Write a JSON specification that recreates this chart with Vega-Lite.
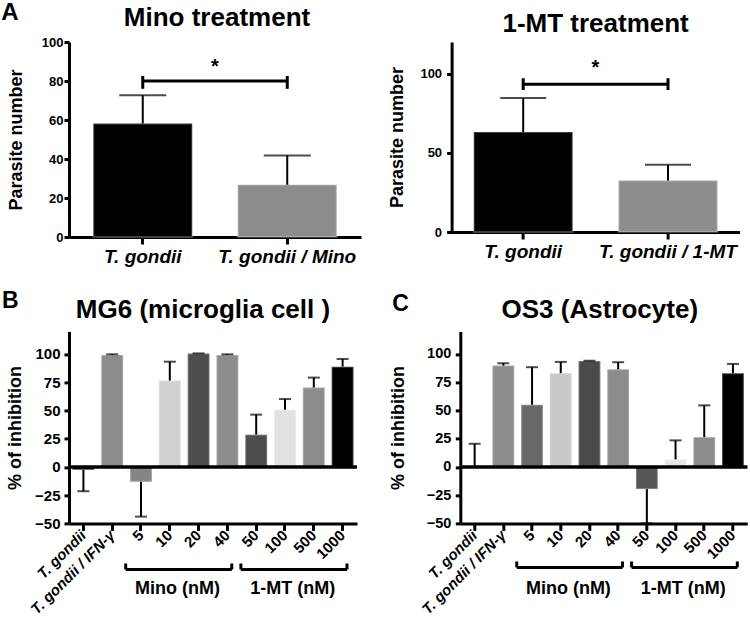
{
  "$schema": "https://vega.github.io/schema/vega-lite/v6.json",
  "padding": {"left": 1, "top": 0, "right": 0, "bottom": 0},
  "spacing": 23.4,
  "resolve": {"scale": {"color": "independent"}},
  "config": {
    "font": "Liberation Sans",
    "view": {"stroke": null},
    "axis": {"domainColor": "#000000", "domainWidth": 3, "tickColor": "#000000", "tickWidth": 3, "grid": false, "labelColor": "#000000", "labelFont": "Liberation Sans", "labelFontWeight": "bold", "titleColor": "#000000", "titleFont": "Liberation Sans", "titleFontWeight": "bold", "labelOverlap": false, "labelFlush": false},
    "title": {"font": "Liberation Sans", "fontWeight": "bold", "color": "#000000", "fontSize": 26}
  },
  "vconcat": [
    {
      "title": {"text": "A", "anchor": "start", "frame": "bounds", "fontSize": 24, "offset": -20, "dx": -6},
      "spacing": 27.6,
      "resolve": {"scale": {"color": "independent"}},
      "hconcat": [
        {
          "width": 292, "height": 195,
          "title": {"text": "Mino treatment", "anchor": "middle", "frame": "group", "offset": 9, "dx": 2, "dy": 3.5},
          "data": {"values": [
            {"cat": "T. gondii", "v": 58.2, "e": 72.7},
            {"cat": "T. gondii / Mino", "v": 26.8, "e": 41.8}
          ]},
          "layer": [
            {"mark": {"type": "bar", "stroke": "#ffffff", "strokeOpacity": 0.25, "strokeWidth": 2},
             "encoding": {
               "x": {"field": "cat", "type": "nominal", "scale": {"domain": ["T. gondii", "T. gondii / Mino"], "paddingInner": 0.315, "paddingOuter": 0.168}, "axis": {"title": null, "labelAngle": 0, "labelFontSize": 19, "labelFontStyle": "italic", "tickSize": 7, "labelPadding": 3, "labelOverlap": false}},
               "y": {"field": "v", "type": "quantitative", "scale": {"domain": [0, 100], "nice": false}, "axis": {"title": "Parasite number", "values": [0, 20, 40, 60, 80, 100], "labelFontSize": 13, "titleFontSize": 18, "tickSize": 5, "labelPadding": 1, "titlePadding": 16, "labelOverlap": false}},
               "color": {"field": "cat", "type": "nominal", "scale": {"domain": ["T. gondii", "T. gondii / Mino"], "range": ["#000000", "#8c8c8c"]}, "legend": null}
             }},
            {"mark": {"type": "rule", "strokeWidth": 2, "color": "#000000"},
             "encoding": {
               "x": {"field": "cat", "type": "nominal", "scale": {"domain": ["T. gondii", "T. gondii / Mino"], "paddingInner": 0.315, "paddingOuter": 0.168}, "axis": {"title": null, "labelAngle": 0, "labelFontSize": 19, "labelFontStyle": "italic", "tickSize": 7, "labelPadding": 3, "labelOverlap": false}},
               "y": {"field": "v", "type": "quantitative", "scale": {"domain": [0, 100], "nice": false}, "axis": {"title": "Parasite number", "values": [0, 20, 40, 60, 80, 100], "labelFontSize": 13, "titleFontSize": 18, "tickSize": 5, "labelPadding": 1, "titlePadding": 16, "labelOverlap": false}},
               "y2": {"field": "e"}}},
            {"mark": {"type": "tick", "orient": "horizontal", "size": 47, "thickness": 2, "color": "#000000"},
             "encoding": {
               "x": {"field": "cat", "type": "nominal", "scale": {"domain": ["T. gondii", "T. gondii / Mino"], "paddingInner": 0.315, "paddingOuter": 0.168}, "axis": {"title": null, "labelAngle": 0, "labelFontSize": 19, "labelFontStyle": "italic", "tickSize": 7, "labelPadding": 3, "labelOverlap": false}},
               "y": {"field": "e", "type": "quantitative", "scale": {"domain": [0, 100], "nice": false}, "axis": {"title": "Parasite number", "values": [0, 20, 40, 60, 80, 100], "labelFontSize": 13, "titleFontSize": 18, "tickSize": 5, "labelPadding": 1, "titlePadding": 16, "labelOverlap": false}}}},
            {"data": {"values": [{"a": "T. gondii", "b": "T. gondii / Mino", "s": "*", "y0": 80, "ylo": 76, "yhi": 82.6, "ys": 84}]},
             "layer": [
               {"mark": {"type": "rule", "strokeWidth": 3, "color": "#000000"},
                "encoding": {
                  "x": {"field": "a", "type": "nominal", "bandPosition": 0.5, "scale": {"domain": ["T. gondii", "T. gondii / Mino"], "paddingInner": 0.315, "paddingOuter": 0.168}, "axis": {"title": null, "labelAngle": 0, "labelFontSize": 19, "labelFontStyle": "italic", "tickSize": 7, "labelPadding": 3, "labelOverlap": false}},
                  "x2": {"field": "b", "bandPosition": 0.5},
                  "y": {"field": "y0", "type": "quantitative", "scale": {"domain": [0, 100], "nice": false}, "axis": {"title": "Parasite number", "values": [0, 20, 40, 60, 80, 100], "labelFontSize": 13, "titleFontSize": 18, "tickSize": 5, "labelPadding": 1, "titlePadding": 16, "labelOverlap": false}}}},
               {"mark": {"type": "rule", "strokeWidth": 3, "color": "#000000"},
                "encoding": {
                  "x": {"field": "a", "type": "nominal", "scale": {"domain": ["T. gondii", "T. gondii / Mino"], "paddingInner": 0.315, "paddingOuter": 0.168}, "axis": {"title": null, "labelAngle": 0, "labelFontSize": 19, "labelFontStyle": "italic", "tickSize": 7, "labelPadding": 3, "labelOverlap": false}},
                  "y": {"field": "ylo", "type": "quantitative", "scale": {"domain": [0, 100], "nice": false}, "axis": {"title": "Parasite number", "values": [0, 20, 40, 60, 80, 100], "labelFontSize": 13, "titleFontSize": 18, "tickSize": 5, "labelPadding": 1, "titlePadding": 16, "labelOverlap": false}},
                  "y2": {"field": "yhi"}}},
               {"mark": {"type": "rule", "strokeWidth": 3, "color": "#000000"},
                "encoding": {
                  "x": {"field": "b", "type": "nominal", "scale": {"domain": ["T. gondii", "T. gondii / Mino"], "paddingInner": 0.315, "paddingOuter": 0.168}, "axis": {"title": null, "labelAngle": 0, "labelFontSize": 19, "labelFontStyle": "italic", "tickSize": 7, "labelPadding": 3, "labelOverlap": false}},
                  "y": {"field": "ylo", "type": "quantitative", "scale": {"domain": [0, 100], "nice": false}, "axis": {"title": "Parasite number", "values": [0, 20, 40, 60, 80, 100], "labelFontSize": 13, "titleFontSize": 18, "tickSize": 5, "labelPadding": 1, "titlePadding": 16, "labelOverlap": false}},
                  "y2": {"field": "yhi"}}},
               {"mark": {"type": "text", "fontSize": 20, "fontWeight": "bold", "baseline": "alphabetic", "align": "center", "color": "#000000"},
                "encoding": {
                  "x": {"field": "a", "type": "nominal", "bandPosition": 1.23, "scale": {"domain": ["T. gondii", "T. gondii / Mino"], "paddingInner": 0.315, "paddingOuter": 0.168}, "axis": {"title": null, "labelAngle": 0, "labelFontSize": 19, "labelFontStyle": "italic", "tickSize": 7, "labelPadding": 3, "labelOverlap": false}},
                  "y": {"field": "ys", "type": "quantitative", "scale": {"domain": [0, 100], "nice": false}, "axis": {"title": "Parasite number", "values": [0, 20, 40, 60, 80, 100], "labelFontSize": 13, "titleFontSize": 18, "tickSize": 5, "labelPadding": 1, "titlePadding": 16, "labelOverlap": false}},
                  "text": {"field": "s"}}}
             ]}
          ]
        },
        {
          "width": 288, "height": 190,
          "title": {"text": "1-MT treatment", "anchor": "middle", "frame": "group", "offset": 9, "dy": 3.5},
          "data": {"values": [
            {"cat": "T. gondii", "v": 63.1, "e": 84.6},
            {"cat": "T. gondii / 1-MT", "v": 32.5, "e": 42.5}
          ]},
          "layer": [
            {"mark": {"type": "bar", "stroke": "#ffffff", "strokeOpacity": 0.25, "strokeWidth": 2},
             "encoding": {
               "x": {"field": "cat", "type": "nominal", "scale": {"domain": ["T. gondii", "T. gondii / 1-MT"], "paddingInner": 0.317, "paddingOuter": 0.153}, "axis": {"title": null, "labelAngle": 0, "labelFontSize": 19, "labelFontStyle": "italic", "tickSize": 7, "labelPadding": 3, "labelOverlap": false}},
               "y": {"field": "v", "type": "quantitative", "scale": {"domain": [0, 120], "nice": false}, "axis": {"title": "Parasite number", "values": [0, 50, 100], "labelFontSize": 13, "titleFontSize": 18, "tickSize": 5, "labelPadding": 5, "titlePadding": 13, "labelOverlap": false}},
               "color": {"field": "cat", "type": "nominal", "scale": {"domain": ["T. gondii", "T. gondii / 1-MT"], "range": ["#000000", "#8c8c8c"]}, "legend": null}
             }},
            {"mark": {"type": "rule", "strokeWidth": 2, "color": "#000000"},
             "encoding": {
               "x": {"field": "cat", "type": "nominal", "scale": {"domain": ["T. gondii", "T. gondii / 1-MT"], "paddingInner": 0.317, "paddingOuter": 0.153}, "axis": {"title": null, "labelAngle": 0, "labelFontSize": 19, "labelFontStyle": "italic", "tickSize": 7, "labelPadding": 3, "labelOverlap": false}},
               "y": {"field": "v", "type": "quantitative", "scale": {"domain": [0, 120], "nice": false}, "axis": {"title": "Parasite number", "values": [0, 50, 100], "labelFontSize": 13, "titleFontSize": 18, "tickSize": 5, "labelPadding": 5, "titlePadding": 13, "labelOverlap": false}},
               "y2": {"field": "e"}}},
            {"mark": {"type": "tick", "orient": "horizontal", "size": 46, "thickness": 2, "color": "#000000"},
             "encoding": {
               "x": {"field": "cat", "type": "nominal", "scale": {"domain": ["T. gondii", "T. gondii / 1-MT"], "paddingInner": 0.317, "paddingOuter": 0.153}, "axis": {"title": null, "labelAngle": 0, "labelFontSize": 19, "labelFontStyle": "italic", "tickSize": 7, "labelPadding": 3, "labelOverlap": false}},
               "y": {"field": "e", "type": "quantitative", "scale": {"domain": [0, 120], "nice": false}, "axis": {"title": "Parasite number", "values": [0, 50, 100], "labelFontSize": 13, "titleFontSize": 18, "tickSize": 5, "labelPadding": 5, "titlePadding": 13, "labelOverlap": false}}}},
            {"data": {"values": [{"a": "T. gondii", "b": "T. gondii / 1-MT", "s": "*", "y0": 93.3, "ylo": 89.7, "yhi": 97.1, "ys": 99.5}]},
             "layer": [
               {"mark": {"type": "rule", "strokeWidth": 3, "color": "#000000"},
                "encoding": {
                  "x": {"field": "a", "type": "nominal", "bandPosition": 0.5, "scale": {"domain": ["T. gondii", "T. gondii / 1-MT"], "paddingInner": 0.317, "paddingOuter": 0.153}, "axis": {"title": null, "labelAngle": 0, "labelFontSize": 19, "labelFontStyle": "italic", "tickSize": 7, "labelPadding": 3, "labelOverlap": false}},
                  "x2": {"field": "b", "bandPosition": 0.5},
                  "y": {"field": "y0", "type": "quantitative", "scale": {"domain": [0, 120], "nice": false}, "axis": {"title": "Parasite number", "values": [0, 50, 100], "labelFontSize": 13, "titleFontSize": 18, "tickSize": 5, "labelPadding": 5, "titlePadding": 13, "labelOverlap": false}}}},
               {"mark": {"type": "rule", "strokeWidth": 3, "color": "#000000"},
                "encoding": {
                  "x": {"field": "a", "type": "nominal", "scale": {"domain": ["T. gondii", "T. gondii / 1-MT"], "paddingInner": 0.317, "paddingOuter": 0.153}, "axis": {"title": null, "labelAngle": 0, "labelFontSize": 19, "labelFontStyle": "italic", "tickSize": 7, "labelPadding": 3, "labelOverlap": false}},
                  "y": {"field": "ylo", "type": "quantitative", "scale": {"domain": [0, 120], "nice": false}, "axis": {"title": "Parasite number", "values": [0, 50, 100], "labelFontSize": 13, "titleFontSize": 18, "tickSize": 5, "labelPadding": 5, "titlePadding": 13, "labelOverlap": false}},
                  "y2": {"field": "yhi"}}},
               {"mark": {"type": "rule", "strokeWidth": 3, "color": "#000000"},
                "encoding": {
                  "x": {"field": "b", "type": "nominal", "scale": {"domain": ["T. gondii", "T. gondii / 1-MT"], "paddingInner": 0.317, "paddingOuter": 0.153}, "axis": {"title": null, "labelAngle": 0, "labelFontSize": 19, "labelFontStyle": "italic", "tickSize": 7, "labelPadding": 3, "labelOverlap": false}},
                  "y": {"field": "ylo", "type": "quantitative", "scale": {"domain": [0, 120], "nice": false}, "axis": {"title": "Parasite number", "values": [0, 50, 100], "labelFontSize": 13, "titleFontSize": 18, "tickSize": 5, "labelPadding": 5, "titlePadding": 13, "labelOverlap": false}},
                  "y2": {"field": "yhi"}}},
               {"mark": {"type": "text", "fontSize": 20, "fontWeight": "bold", "baseline": "alphabetic", "align": "center", "color": "#000000"},
                "encoding": {
                  "x": {"field": "a", "type": "nominal", "bandPosition": 1.23, "scale": {"domain": ["T. gondii", "T. gondii / 1-MT"], "paddingInner": 0.317, "paddingOuter": 0.153}, "axis": {"title": null, "labelAngle": 0, "labelFontSize": 19, "labelFontStyle": "italic", "tickSize": 7, "labelPadding": 3, "labelOverlap": false}},
                  "y": {"field": "ys", "type": "quantitative", "scale": {"domain": [0, 120], "nice": false}, "axis": {"title": "Parasite number", "values": [0, 50, 100], "labelFontSize": 13, "titleFontSize": 18, "tickSize": 5, "labelPadding": 5, "titlePadding": 13, "labelOverlap": false}},
                  "text": {"field": "s"}}}
             ]}
          ]
        }
      ]
    },
    {
      "spacing": 29.3,
      "resolve": {"scale": {"color": "independent"}},
      "hconcat": [
        {
          "title": {"text": "B", "anchor": "start", "frame": "bounds", "fontSize": 23, "offset": -15.8, "dx": -4},
          "resolve": {"scale": {"color": "independent"}},
          "vconcat": [
            {
              "width": 288, "height": 192,
              "title": {"text": "MG6 (microglia cell )", "anchor": "middle", "frame": "group", "offset": 8.5, "dx": -10},
              "data": {"values": [
                {"cat": "T. gondii", "v": -2.5, "e": -21.5},
                {"cat": "T. gondii / IFN-γ", "v": 99.1, "e": 99.7},
                {"cat": "5", "v": -13.2, "e": -44},
                {"cat": "10", "v": 76.5, "e": 93.2},
                {"cat": "20", "v": 100.5, "e": 100.5},
                {"cat": "40", "v": 99.1, "e": 99.7},
                {"cat": "50", "v": 28.6, "e": 46.3},
                {"cat": "100", "v": 50.7, "e": 60.1},
                {"cat": "500", "v": 70.3, "e": 79.1},
                {"cat": "1000", "v": 88.8, "e": 95.6}
              ]},
              "layer": [
                {"mark": {"type": "bar", "stroke": "#ffffff", "strokeOpacity": 0.25, "strokeWidth": 2},
                 "encoding": {
                   "x": {"field": "cat", "type": "nominal", "scale": {"domain": ["T. gondii", "T. gondii / IFN-γ", "5", "10", "20", "40", "50", "100", "500", "1000"], "paddingInner": 0.24, "paddingOuter": 0.12}, "axis": {"title": null, "labelAngle": -45, "labelAlign": "right", "labelBaseline": "middle", "labelFontSize": 15, "tickSize": 7, "labelPadding": 2, "labelOverlap": false, "labelFontStyle": {"condition": {"test": "indexof(datum.label, 'gondii') >= 0", "value": "italic"}, "value": "normal"}}},
                   "y": {"field": "v", "type": "quantitative", "scale": {"domain": [-50, 120], "nice": false}, "axis": {"title": "% of inhibition", "values": [-50, -25, 0, 25, 50, 75, 100], "labelFontSize": 15, "titleFontSize": 18, "tickSize": 5, "labelPadding": 4, "titlePadding": 10.5, "labelOverlap": false}},
                   "color": {"field": "cat", "type": "nominal", "scale": {"domain": ["T. gondii", "T. gondii / IFN-γ", "5", "10", "20", "40", "50", "100", "500", "1000"], "range": ["#000000", "#8c8c8c", "#858585", "#d0d0d0", "#4d4d4d", "#8c8c8c", "#4d4d4d", "#e2e2e2", "#8c8c8c", "#000000"]}, "legend": null}
                 }},
                {"mark": {"type": "rule", "strokeWidth": 2, "color": "#000000"},
                 "encoding": {
                   "x": {"field": "cat", "type": "nominal", "scale": {"domain": ["T. gondii", "T. gondii / IFN-γ", "5", "10", "20", "40", "50", "100", "500", "1000"], "paddingInner": 0.24, "paddingOuter": 0.12}, "axis": {"title": null, "labelAngle": -45, "labelAlign": "right", "labelBaseline": "middle", "labelFontSize": 15, "tickSize": 7, "labelPadding": 2, "labelOverlap": false, "labelFontStyle": {"condition": {"test": "indexof(datum.label, 'gondii') >= 0", "value": "italic"}, "value": "normal"}}},
                   "y": {"field": "v", "type": "quantitative", "scale": {"domain": [-50, 120], "nice": false}, "axis": {"title": "% of inhibition", "values": [-50, -25, 0, 25, 50, 75, 100], "labelFontSize": 15, "titleFontSize": 18, "tickSize": 5, "labelPadding": 4, "titlePadding": 10.5, "labelOverlap": false}},
                   "y2": {"field": "e"}}},
                {"mark": {"type": "tick", "orient": "horizontal", "size": 12, "thickness": 2, "color": "#000000"},
                 "encoding": {
                   "x": {"field": "cat", "type": "nominal", "scale": {"domain": ["T. gondii", "T. gondii / IFN-γ", "5", "10", "20", "40", "50", "100", "500", "1000"], "paddingInner": 0.24, "paddingOuter": 0.12}, "axis": {"title": null, "labelAngle": -45, "labelAlign": "right", "labelBaseline": "middle", "labelFontSize": 15, "tickSize": 7, "labelPadding": 2, "labelOverlap": false, "labelFontStyle": {"condition": {"test": "indexof(datum.label, 'gondii') >= 0", "value": "italic"}, "value": "normal"}}},
                   "y": {"field": "e", "type": "quantitative", "scale": {"domain": [-50, 120], "nice": false}, "axis": {"title": "% of inhibition", "values": [-50, -25, 0, 25, 50, 75, 100], "labelFontSize": 15, "titleFontSize": 18, "tickSize": 5, "labelPadding": 4, "titlePadding": 10.5, "labelOverlap": false}}}},
                {"data": {"values": [
                   {"s": "5", "t": "40", "c": "10", "lab": "Mino (nM)", "yz": 0, "yb": -90.8, "yt": -85.5, "yl": -108.5},
                   {"s": "50", "t": "1000", "c": "100", "lab": "1-MT (nM)", "yz": 0, "yb": -90.8, "yt": -85.5, "yl": -108.5}
                 ]},
                 "layer": [
                   {"mark": {"type": "rule", "strokeWidth": 3, "color": "#000000"},
                    "encoding": {
                      "y": {"field": "yz", "type": "quantitative", "scale": {"domain": [-50, 120], "nice": false}, "axis": {"title": "% of inhibition", "values": [-50, -25, 0, 25, 50, 75, 100], "labelFontSize": 15, "titleFontSize": 18, "tickSize": 5, "labelPadding": 4, "titlePadding": 10.5, "labelOverlap": false}}}},
                   {"mark": {"type": "rule", "strokeWidth": 3, "color": "#000000"},
                    "encoding": {
                      "x": {"field": "s", "type": "nominal", "bandPosition": -0.2, "scale": {"domain": ["T. gondii", "T. gondii / IFN-γ", "5", "10", "20", "40", "50", "100", "500", "1000"], "paddingInner": 0.24, "paddingOuter": 0.12}, "axis": {"title": null, "labelAngle": -45, "labelAlign": "right", "labelBaseline": "middle", "labelFontSize": 15, "tickSize": 7, "labelPadding": 2, "labelOverlap": false, "labelFontStyle": {"condition": {"test": "indexof(datum.label, 'gondii') >= 0", "value": "italic"}, "value": "normal"}}},
                      "x2": {"field": "t", "bandPosition": 0.7},
                      "y": {"field": "yb", "type": "quantitative", "scale": {"domain": [-50, 120], "nice": false}, "axis": {"title": "% of inhibition", "values": [-50, -25, 0, 25, 50, 75, 100], "labelFontSize": 15, "titleFontSize": 18, "tickSize": 5, "labelPadding": 4, "titlePadding": 10.5, "labelOverlap": false}}}},
                   {"mark": {"type": "rule", "strokeWidth": 3, "color": "#000000"},
                    "encoding": {
                      "x": {"field": "s", "type": "nominal", "bandPosition": -0.2, "scale": {"domain": ["T. gondii", "T. gondii / IFN-γ", "5", "10", "20", "40", "50", "100", "500", "1000"], "paddingInner": 0.24, "paddingOuter": 0.12}, "axis": {"title": null, "labelAngle": -45, "labelAlign": "right", "labelBaseline": "middle", "labelFontSize": 15, "tickSize": 7, "labelPadding": 2, "labelOverlap": false, "labelFontStyle": {"condition": {"test": "indexof(datum.label, 'gondii') >= 0", "value": "italic"}, "value": "normal"}}},
                      "y": {"field": "yb", "type": "quantitative", "scale": {"domain": [-50, 120], "nice": false}, "axis": {"title": "% of inhibition", "values": [-50, -25, 0, 25, 50, 75, 100], "labelFontSize": 15, "titleFontSize": 18, "tickSize": 5, "labelPadding": 4, "titlePadding": 10.5, "labelOverlap": false}},
                      "y2": {"field": "yt"}}},
                   {"mark": {"type": "rule", "strokeWidth": 3, "color": "#000000"},
                    "encoding": {
                      "x": {"field": "t", "type": "nominal", "bandPosition": 0.7, "scale": {"domain": ["T. gondii", "T. gondii / IFN-γ", "5", "10", "20", "40", "50", "100", "500", "1000"], "paddingInner": 0.24, "paddingOuter": 0.12}, "axis": {"title": null, "labelAngle": -45, "labelAlign": "right", "labelBaseline": "middle", "labelFontSize": 15, "tickSize": 7, "labelPadding": 2, "labelOverlap": false, "labelFontStyle": {"condition": {"test": "indexof(datum.label, 'gondii') >= 0", "value": "italic"}, "value": "normal"}}},
                      "y": {"field": "yb", "type": "quantitative", "scale": {"domain": [-50, 120], "nice": false}, "axis": {"title": "% of inhibition", "values": [-50, -25, 0, 25, 50, 75, 100], "labelFontSize": 15, "titleFontSize": 18, "tickSize": 5, "labelPadding": 4, "titlePadding": 10.5, "labelOverlap": false}},
                      "y2": {"field": "yt"}}},
                   {"mark": {"type": "text", "fontSize": 18, "fontWeight": "bold", "baseline": "middle", "align": "center", "color": "#000000"},
                    "encoding": {
                      "x": {"field": "c", "type": "nominal", "bandPosition": 0.85, "scale": {"domain": ["T. gondii", "T. gondii / IFN-γ", "5", "10", "20", "40", "50", "100", "500", "1000"], "paddingInner": 0.24, "paddingOuter": 0.12}, "axis": {"title": null, "labelAngle": -45, "labelAlign": "right", "labelBaseline": "middle", "labelFontSize": 15, "tickSize": 7, "labelPadding": 2, "labelOverlap": false, "labelFontStyle": {"condition": {"test": "indexof(datum.label, 'gondii') >= 0", "value": "italic"}, "value": "normal"}}},
                      "y": {"field": "yl", "type": "quantitative", "scale": {"domain": [-50, 120], "nice": false}, "axis": {"title": "% of inhibition", "values": [-50, -25, 0, 25, 50, 75, 100], "labelFontSize": 15, "titleFontSize": 18, "tickSize": 5, "labelPadding": 4, "titlePadding": 10.5, "labelOverlap": false}},
                      "text": {"field": "lab"}}}
                 ]}
              ]
            }
          ]
        },
        {
          "title": {"text": "C", "anchor": "start", "frame": "bounds", "fontSize": 23, "offset": -18.8, "dx": 3},
          "resolve": {"scale": {"color": "independent"}},
          "vconcat": [
            {
              "width": 287, "height": 192,
              "title": {"text": "OS3 (Astrocyte)", "anchor": "middle", "frame": "group", "offset": 8, "dx": -4},
              "data": {"values": [
                {"cat": "T. gondii", "v": 0.5, "e": 20.5},
                {"cat": "T. gondii / IFN-γ", "v": 89.7, "e": 91.8},
                {"cat": "5", "v": 55.1, "e": 88.3},
                {"cat": "10", "v": 83, "e": 93},
                {"cat": "20", "v": 93.8, "e": 94},
                {"cat": "40", "v": 86.5, "e": 92.7},
                {"cat": "50", "v": -19.6, "e": -50},
                {"cat": "100", "v": 6.7, "e": 23.5},
                {"cat": "500", "v": 26.4, "e": 54.5},
                {"cat": "1000", "v": 83, "e": 91.2}
              ]},
              "layer": [
                {"mark": {"type": "bar", "stroke": "#ffffff", "strokeOpacity": 0.25, "strokeWidth": 2},
                 "encoding": {
                   "x": {"field": "cat", "type": "nominal", "scale": {"domain": ["T. gondii", "T. gondii / IFN-γ", "5", "10", "20", "40", "50", "100", "500", "1000"], "paddingInner": 0.24, "paddingOuter": 0.12}, "axis": {"title": null, "labelAngle": -45, "labelAlign": "right", "labelBaseline": "middle", "labelFontSize": 15, "tickSize": 7, "labelPadding": 2, "labelOverlap": false, "labelFontStyle": {"condition": {"test": "indexof(datum.label, 'gondii') >= 0", "value": "italic"}, "value": "normal"}}},
                   "y": {"field": "v", "type": "quantitative", "scale": {"domain": [-50, 120], "nice": false}, "axis": {"title": "% of inhibition", "values": [-50, -25, 0, 25, 50, 75, 100], "labelFontSize": 14.5, "titleFontSize": 18, "tickSize": 5, "labelPadding": 4.5, "titlePadding": 19, "labelOverlap": false}},
                   "color": {"field": "cat", "type": "nominal", "scale": {"domain": ["T. gondii", "T. gondii / IFN-γ", "5", "10", "20", "40", "50", "100", "500", "1000"], "range": ["#000000", "#8c8c8c", "#686868", "#c9c9c9", "#4a4a4a", "#8c8c8c", "#555555", "#e6e6e6", "#8c8c8c", "#000000"]}, "legend": null}
                 }},
                {"mark": {"type": "rule", "strokeWidth": 2, "color": "#000000"},
                 "encoding": {
                   "x": {"field": "cat", "type": "nominal", "scale": {"domain": ["T. gondii", "T. gondii / IFN-γ", "5", "10", "20", "40", "50", "100", "500", "1000"], "paddingInner": 0.24, "paddingOuter": 0.12}, "axis": {"title": null, "labelAngle": -45, "labelAlign": "right", "labelBaseline": "middle", "labelFontSize": 15, "tickSize": 7, "labelPadding": 2, "labelOverlap": false, "labelFontStyle": {"condition": {"test": "indexof(datum.label, 'gondii') >= 0", "value": "italic"}, "value": "normal"}}},
                   "y": {"field": "v", "type": "quantitative", "scale": {"domain": [-50, 120], "nice": false}, "axis": {"title": "% of inhibition", "values": [-50, -25, 0, 25, 50, 75, 100], "labelFontSize": 14.5, "titleFontSize": 18, "tickSize": 5, "labelPadding": 4.5, "titlePadding": 19, "labelOverlap": false}},
                   "y2": {"field": "e"}}},
                {"mark": {"type": "tick", "orient": "horizontal", "size": 12, "thickness": 2, "color": "#000000"},
                 "encoding": {
                   "x": {"field": "cat", "type": "nominal", "scale": {"domain": ["T. gondii", "T. gondii / IFN-γ", "5", "10", "20", "40", "50", "100", "500", "1000"], "paddingInner": 0.24, "paddingOuter": 0.12}, "axis": {"title": null, "labelAngle": -45, "labelAlign": "right", "labelBaseline": "middle", "labelFontSize": 15, "tickSize": 7, "labelPadding": 2, "labelOverlap": false, "labelFontStyle": {"condition": {"test": "indexof(datum.label, 'gondii') >= 0", "value": "italic"}, "value": "normal"}}},
                   "y": {"field": "e", "type": "quantitative", "scale": {"domain": [-50, 120], "nice": false}, "axis": {"title": "% of inhibition", "values": [-50, -25, 0, 25, 50, 75, 100], "labelFontSize": 14.5, "titleFontSize": 18, "tickSize": 5, "labelPadding": 4.5, "titlePadding": 19, "labelOverlap": false}}}},
                {"data": {"values": [
                   {"s": "5", "t": "40", "c": "10", "lab": "Mino (nM)", "yz": 0, "yb": -89, "yt": -83.7, "yl": -108.5},
                   {"s": "50", "t": "1000", "c": "100", "lab": "1-MT (nM)", "yz": 0, "yb": -89, "yt": -83.7, "yl": -108.5}
                 ]},
                 "layer": [
                   {"mark": {"type": "rule", "strokeWidth": 3, "color": "#000000"},
                    "encoding": {
                      "y": {"field": "yz", "type": "quantitative", "scale": {"domain": [-50, 120], "nice": false}, "axis": {"title": "% of inhibition", "values": [-50, -25, 0, 25, 50, 75, 100], "labelFontSize": 14.5, "titleFontSize": 18, "tickSize": 5, "labelPadding": 4.5, "titlePadding": 19, "labelOverlap": false}}}},
                   {"mark": {"type": "rule", "strokeWidth": 3, "color": "#000000"},
                    "encoding": {
                      "x": {"field": "s", "type": "nominal", "bandPosition": -0.2, "scale": {"domain": ["T. gondii", "T. gondii / IFN-γ", "5", "10", "20", "40", "50", "100", "500", "1000"], "paddingInner": 0.24, "paddingOuter": 0.12}, "axis": {"title": null, "labelAngle": -45, "labelAlign": "right", "labelBaseline": "middle", "labelFontSize": 15, "tickSize": 7, "labelPadding": 2, "labelOverlap": false, "labelFontStyle": {"condition": {"test": "indexof(datum.label, 'gondii') >= 0", "value": "italic"}, "value": "normal"}}},
                      "x2": {"field": "t", "bandPosition": 0.7},
                      "y": {"field": "yb", "type": "quantitative", "scale": {"domain": [-50, 120], "nice": false}, "axis": {"title": "% of inhibition", "values": [-50, -25, 0, 25, 50, 75, 100], "labelFontSize": 14.5, "titleFontSize": 18, "tickSize": 5, "labelPadding": 4.5, "titlePadding": 19, "labelOverlap": false}}}},
                   {"mark": {"type": "rule", "strokeWidth": 3, "color": "#000000"},
                    "encoding": {
                      "x": {"field": "s", "type": "nominal", "bandPosition": -0.2, "scale": {"domain": ["T. gondii", "T. gondii / IFN-γ", "5", "10", "20", "40", "50", "100", "500", "1000"], "paddingInner": 0.24, "paddingOuter": 0.12}, "axis": {"title": null, "labelAngle": -45, "labelAlign": "right", "labelBaseline": "middle", "labelFontSize": 15, "tickSize": 7, "labelPadding": 2, "labelOverlap": false, "labelFontStyle": {"condition": {"test": "indexof(datum.label, 'gondii') >= 0", "value": "italic"}, "value": "normal"}}},
                      "y": {"field": "yb", "type": "quantitative", "scale": {"domain": [-50, 120], "nice": false}, "axis": {"title": "% of inhibition", "values": [-50, -25, 0, 25, 50, 75, 100], "labelFontSize": 14.5, "titleFontSize": 18, "tickSize": 5, "labelPadding": 4.5, "titlePadding": 19, "labelOverlap": false}},
                      "y2": {"field": "yt"}}},
                   {"mark": {"type": "rule", "strokeWidth": 3, "color": "#000000"},
                    "encoding": {
                      "x": {"field": "t", "type": "nominal", "bandPosition": 0.7, "scale": {"domain": ["T. gondii", "T. gondii / IFN-γ", "5", "10", "20", "40", "50", "100", "500", "1000"], "paddingInner": 0.24, "paddingOuter": 0.12}, "axis": {"title": null, "labelAngle": -45, "labelAlign": "right", "labelBaseline": "middle", "labelFontSize": 15, "tickSize": 7, "labelPadding": 2, "labelOverlap": false, "labelFontStyle": {"condition": {"test": "indexof(datum.label, 'gondii') >= 0", "value": "italic"}, "value": "normal"}}},
                      "y": {"field": "yb", "type": "quantitative", "scale": {"domain": [-50, 120], "nice": false}, "axis": {"title": "% of inhibition", "values": [-50, -25, 0, 25, 50, 75, 100], "labelFontSize": 14.5, "titleFontSize": 18, "tickSize": 5, "labelPadding": 4.5, "titlePadding": 19, "labelOverlap": false}},
                      "y2": {"field": "yt"}}},
                   {"mark": {"type": "text", "fontSize": 18, "fontWeight": "bold", "baseline": "middle", "align": "center", "color": "#000000"},
                    "encoding": {
                      "x": {"field": "c", "type": "nominal", "bandPosition": 0.85, "scale": {"domain": ["T. gondii", "T. gondii / IFN-γ", "5", "10", "20", "40", "50", "100", "500", "1000"], "paddingInner": 0.24, "paddingOuter": 0.12}, "axis": {"title": null, "labelAngle": -45, "labelAlign": "right", "labelBaseline": "middle", "labelFontSize": 15, "tickSize": 7, "labelPadding": 2, "labelOverlap": false, "labelFontStyle": {"condition": {"test": "indexof(datum.label, 'gondii') >= 0", "value": "italic"}, "value": "normal"}}},
                      "y": {"field": "yl", "type": "quantitative", "scale": {"domain": [-50, 120], "nice": false}, "axis": {"title": "% of inhibition", "values": [-50, -25, 0, 25, 50, 75, 100], "labelFontSize": 14.5, "titleFontSize": 18, "tickSize": 5, "labelPadding": 4.5, "titlePadding": 19, "labelOverlap": false}},
                      "text": {"field": "lab"}}}
                 ]}
              ]
            }
          ]
        }
      ]
    }
  ]
}
